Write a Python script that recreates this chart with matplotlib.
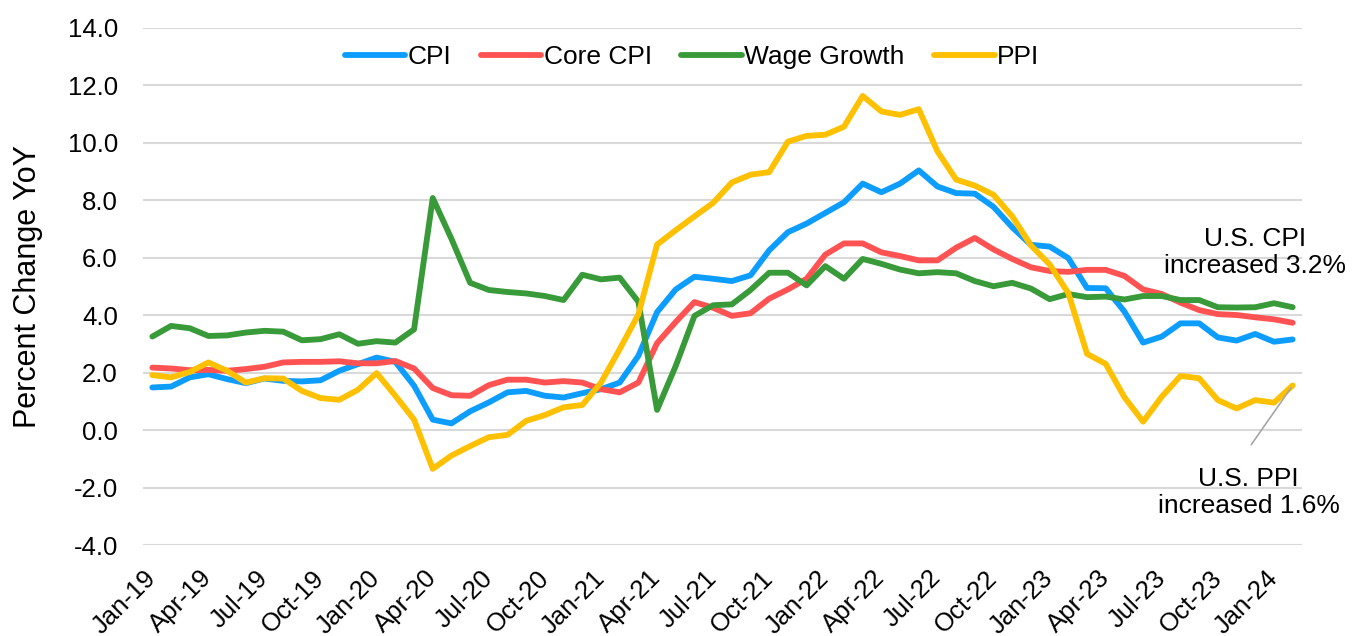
import matplotlib
matplotlib.use("Agg")
import matplotlib.pyplot as plt

plt.rcParams['font.family'] = ['Liberation Sans', 'DejaVu Sans']

months = ["Jan", "Feb", "Mar", "Apr", "May", "Jun", "Jul", "Aug", "Sep", "Oct", "Nov", "Dec"]
dates = [f"{months[m]}-{y:02d}" for y in range(19, 25) for m in range(12)][:62]

cpi = [1.48, 1.51, 1.83, 1.94, 1.77, 1.63, 1.79, 1.71, 1.69, 1.73, 2.06, 2.29,
       2.52, 2.37, 1.54, 0.36, 0.23, 0.65, 0.96, 1.31, 1.36, 1.19, 1.13, 1.28,
       1.42, 1.65, 2.58, 4.10, 4.89, 5.33, 5.26, 5.18, 5.38, 6.25, 6.88, 7.18,
       7.55, 7.92, 8.57, 8.27, 8.57, 9.03, 8.47, 8.24, 8.22, 7.76, 7.05, 6.44,
       6.38, 5.98, 4.94, 4.93, 4.12, 3.04, 3.25, 3.71, 3.71, 3.22, 3.11, 3.34,
       3.07, 3.15]
core_cpi = [2.17, 2.14, 2.08, 2.09, 2.06, 2.12, 2.20, 2.35, 2.37, 2.37, 2.39, 2.32,
            2.32, 2.40, 2.14, 1.46, 1.21, 1.19, 1.56, 1.75, 1.75, 1.65, 1.70, 1.65,
            1.42, 1.31, 1.65, 3.02, 3.76, 4.45, 4.25, 3.97, 4.06, 4.57, 4.89, 5.26,
            6.10, 6.49, 6.49, 6.18, 6.05, 5.90, 5.90, 6.34, 6.68, 6.28, 5.95, 5.66,
            5.53, 5.50, 5.57, 5.57, 5.36, 4.89, 4.73, 4.43, 4.17, 4.03, 4.00, 3.92,
            3.85, 3.73]
wage = [3.25, 3.62, 3.54, 3.27, 3.29, 3.39, 3.45, 3.42, 3.12, 3.16, 3.33, 3.00,
        3.09, 3.04, 3.50, 8.07, 6.65, 5.12, 4.87, 4.80, 4.75, 4.66, 4.52, 5.40,
        5.24, 5.30, 4.46, 0.70, 2.23, 3.97, 4.34, 4.37, 4.87, 5.47, 5.47, 5.03,
        5.70, 5.26, 5.95, 5.78, 5.58, 5.45, 5.49, 5.45, 5.18, 5.00, 5.12, 4.92,
        4.55, 4.73, 4.62, 4.64, 4.54, 4.66, 4.66, 4.52, 4.52, 4.27, 4.26, 4.27,
        4.41, 4.27]
ppi = [1.91, 1.83, 2.02, 2.35, 2.06, 1.65, 1.80, 1.79, 1.36, 1.11, 1.05, 1.40,
       1.98, 1.19, 0.36, -1.35, -0.89, -0.56, -0.25, -0.17, 0.32, 0.52, 0.79, 0.87,
       1.65, 2.81, 4.02, 6.45, 6.95, 7.43, 7.90, 8.61, 8.88, 8.97, 10.03, 10.23,
       10.27, 10.55, 11.62, 11.08, 10.96, 11.16, 9.69, 8.71, 8.50, 8.18, 7.43, 6.42,
       5.76, 4.76, 2.65, 2.30, 1.14, 0.29, 1.16, 1.88, 1.80, 1.04, 0.75, 1.04,
       0.95, 1.55]

series_names = ["CPI", "Core CPI", "Wage Growth", "PPI"]
series_colors = ["#0D9DFF", "#FF5353", "#389A38", "#FFC000"]
y_ticks = [-4, -2, 0, 2, 4, 6, 8, 10, 12, 14]

fig = plt.figure(figsize=(13.53, 6.36), dpi=100)
ax = fig.add_axes([0.10569, 0.14308, 0.85661, 0.81368])

x = list(range(len(dates)))
for vals, name, col in zip([cpi, core_cpi, wage, ppi], series_names, series_colors):
    ax.plot(x, vals, color=col, lw=4.2, label=name,
            solid_joinstyle='round', solid_capstyle='round')

ax.set_xlim(-0.5, len(dates) - 0.5)
ax.set_ylim(-4, 14)
ax.set_yticks(y_ticks)
ax.set_yticklabels([f"{v:.1f}" for v in y_ticks], fontsize=18.5)
ax.grid(axis='y', color='#D9D9D9', lw=1.5)
ax.set_axisbelow(True)
for s in ax.spines.values():
    s.set_visible(False)

tick_idx = list(range(0, len(dates), 3))
ax.set_xticks(tick_idx)
ax.set_xticklabels([dates[i] for i in tick_idx], rotation=45, ha='right',
                   va='center', rotation_mode='anchor', fontsize=18.5)
ax.tick_params(axis='x', length=0, pad=21)
ax.tick_params(axis='y', length=0, pad=18)

ax.set_ylabel("Percent Change YoY", fontsize=22, labelpad=18)

fig.legend(loc='center', bbox_to_anchor=(692 / 1353, 1 - 57 / 636), ncol=4,
           frameon=False, fontsize=19, handlelength=2.3, handletextpad=0.1,
           columnspacing=1.1)

ax.text(58.97, 6.16, "U.S. CPI\nincreased 3.2%", ha='center', va='center',
        fontsize=19, linespacing=1.15)
ax.text(58.64, -2.16, "U.S. PPI\nincreased 1.6%", ha='center', va='center',
        fontsize=19, linespacing=1.15)
ax.annotate("", xy=(61, 1.55), xytext=(58.7, -0.59),
            arrowprops=dict(arrowstyle='-', color='#A6A6A6', lw=1.2))

fig.savefig("out.png", dpi=100)
